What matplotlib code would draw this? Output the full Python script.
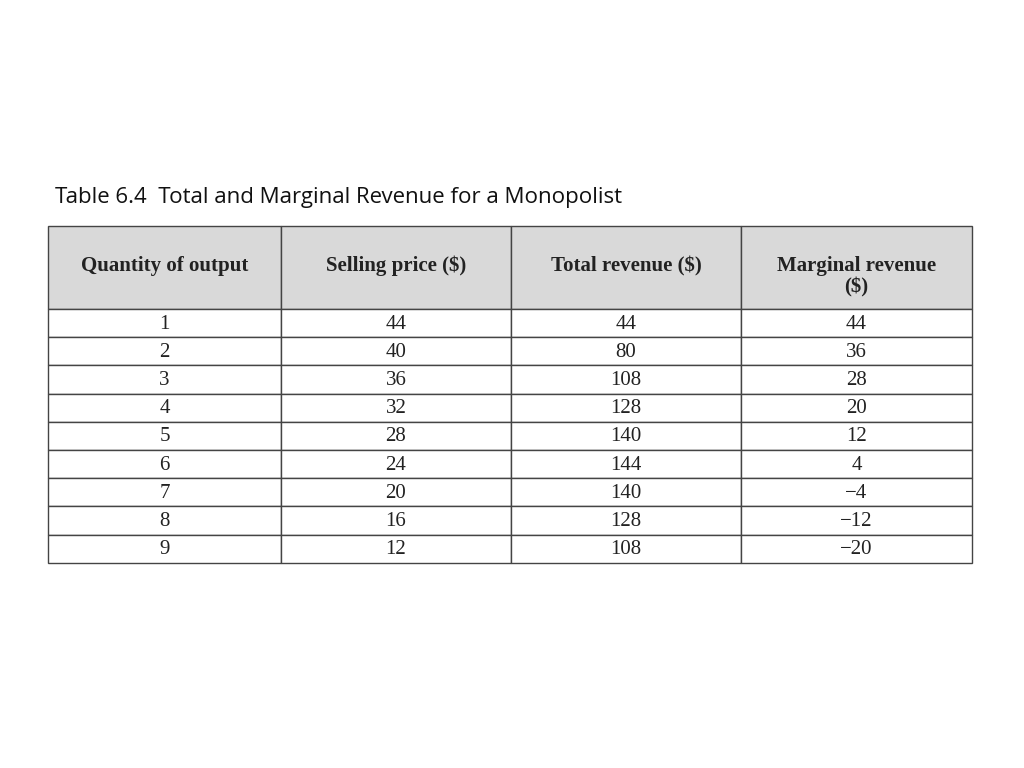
import matplotlib
matplotlib.use("Agg")
import matplotlib.pyplot as plt
from matplotlib.patches import Rectangle

title = "Table 6.4  Total and Marginal Revenue for a Monopolist"
headers = ["Quantity of output", "Selling price ($)", "Total revenue ($)", "Marginal revenue\n($)"]
quantity = [1, 2, 3, 4, 5, 6, 7, 8, 9]
price = [44, 40, 36, 32, 28, 24, 20, 16, 12]
total_revenue = [44, 80, 108, 128, 140, 144, 140, 128, 108]
marginal_revenue = [44, 36, 28, 20, 12, 4, -4, -12, -20]

def fmt(v):
    return ("\u2212" + str(-v)) if v < 0 else str(v)

fig = plt.figure(figsize=(10.24, 7.68), dpi=100)
ax = fig.add_axes([0, 0, 1, 1])
ax.set_xlim(0, 1024)
ax.set_ylim(768, 0)
ax.axis("off")

ax.text(55, 198, title, fontsize=16, family="Open Sans", va="center", ha="left", color="#111")

col_edges = [48, 281, 511, 741, 972]
top, head_h, row_h = 226, 83, 28.2
ncols = len(headers)
lw = 1.0
for c in range(ncols):
    x0, x1 = col_edges[c], col_edges[c + 1]
    ax.add_patch(Rectangle((x0, top), x1 - x0, head_h, facecolor="#d9d9d9", edgecolor="#444", lw=lw))
    ax.text((x0 + x1) / 2, top + 30, headers[c], ha="center", va="top", fontsize=15,
            family="Liberation Serif", fontweight="bold", color="#222", linespacing=1.1)

cols = [quantity, price, total_revenue, marginal_revenue]
for r in range(len(quantity)):
    y0 = top + head_h + r * row_h
    for c in range(ncols):
        x0, x1 = col_edges[c], col_edges[c + 1]
        ax.add_patch(Rectangle((x0, y0), x1 - x0, row_h, facecolor="white", edgecolor="#444", lw=lw))
        ax.text((x0 + x1) / 2, y0 + row_h / 2 + 1, fmt(cols[c][r]), ha="center", va="center",
                fontsize=15, family="Liberation Serif", color="#222")

fig.savefig("out.png", dpi=100)
